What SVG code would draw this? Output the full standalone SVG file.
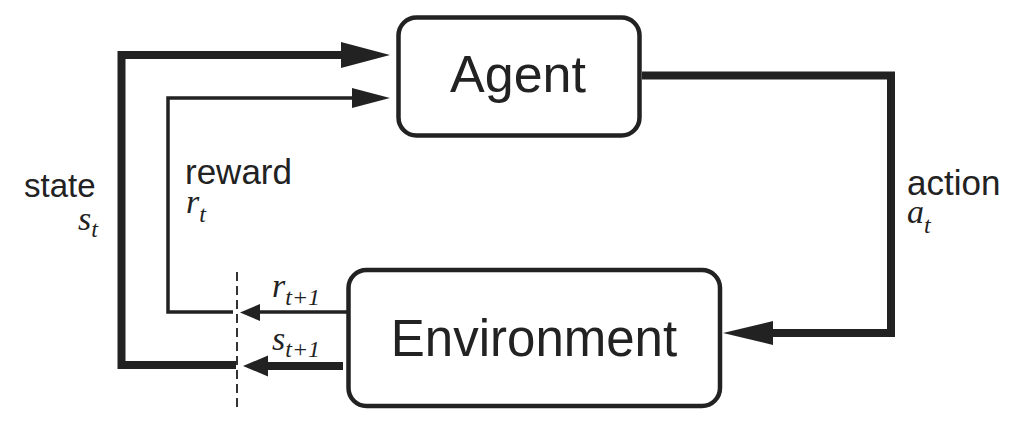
<svg xmlns="http://www.w3.org/2000/svg" width="1024" height="425" viewBox="0 0 1024 425">
<style>
.box{fill:#fff;stroke:#222;stroke-width:4.5}
.thick{fill:none;stroke:#222;stroke-width:8;stroke-linejoin:miter;stroke-linecap:butt}
.thin{fill:none;stroke:#222;stroke-width:3.5;stroke-linejoin:miter;stroke-linecap:butt}
.head{fill:#222}
.lbl{font-family:"Liberation Sans",Arial,sans-serif;fill:#222}
.math{font-family:"Liberation Serif","Times New Roman",serif;font-style:italic;fill:#222}
.dash{stroke:#333;stroke-width:2;stroke-dasharray:9 5;fill:none}
</style>
<rect width="1024" height="425" fill="#fff"/>
<g id="connectors">
  <path class="thick" d="M236,365 H121.5 V55 H345"/>
  <polygon class="head" points="390,55 341,42 341,68"/>
  <path class="thin" d="M233,312 H168 V98 H355"/>
  <polygon class="head" points="390,98 352,88 352,108"/>
  <path class="thick" d="M642,75.5 H891 V333 H770"/>
  <polygon class="head" points="723,333 773,321 773,345"/>
  <path class="thin" d="M347,312 H258"/>
  <polygon class="head" points="240,312.5 260,304 260,321"/>
  <path class="thick" d="M343,366 H265"/>
  <polygon class="head" points="243,366 268,355.5 268,376.5"/>
  <line class="dash" x1="237" y1="272" x2="237" y2="410"/>
</g>
<g id="agent">
  <rect class="box" x="398.5" y="17.5" width="241" height="118" rx="18"/>
  <text class="lbl" x="518" y="92" font-size="52" text-anchor="middle">Agent</text>
</g>
<g id="environment">
  <rect class="box" x="348.5" y="270" width="371.5" height="136" rx="18"/>
  <text class="lbl" x="534" y="356" font-size="51" text-anchor="middle">Environment</text>
</g>
<g id="labels">
  <text class="lbl" x="24" y="197" font-size="33">state</text>
  <text class="math" x="78" y="230" font-size="34">s<tspan font-size="24" dy="7">t</tspan></text>
  <text class="lbl" x="185" y="184" font-size="35">reward</text>
  <text class="math" x="186" y="213" font-size="34">r<tspan font-size="24" dy="9">t</tspan></text>
  <text class="lbl" x="907" y="195" font-size="35">action</text>
  <text class="math" x="907" y="223" font-size="34">a<tspan font-size="24" dy="10">t</tspan></text>
  <text class="math" x="272" y="297" font-size="34">r<tspan font-size="24" dy="8">t+1</tspan></text>
  <text class="math" x="272" y="350" font-size="34">s<tspan font-size="24" dy="7">t+1</tspan></text>
</g>
</svg>
